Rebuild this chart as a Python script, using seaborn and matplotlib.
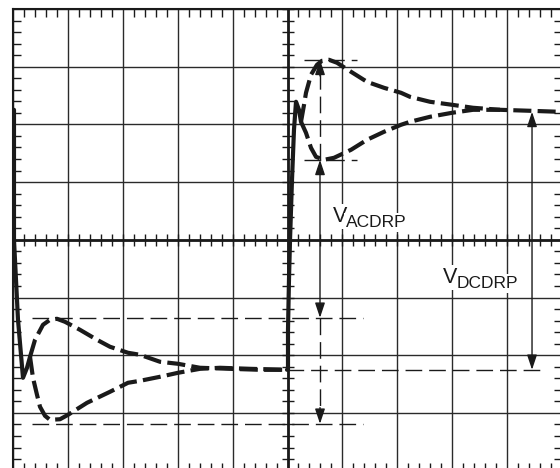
import numpy as np
import pandas as pd
import matplotlib
matplotlib.use("Agg")
import matplotlib.pyplot as plt
import seaborn as sns
from matplotlib.ticker import MultipleLocator

sns.set_theme(style="white")
plt.rcParams['font.family'] = ['Liberation Sans', 'DejaVu Sans']
plt.rcParams['lines.scale_dashes'] = False

# ---- waveform data (screen divisions: x 0..10, y -4..4) ----
# falling step (solid)
fall_x = [0.018, 0.018, 0.091, 0.182, 0.255, 0.310]
fall_y = [2.253, 0.000, -1.386, -2.392, -2.218, -2.028]
# upper envelope after falling step (dashed)
fall_up_x = [0.310, 0.401, 0.546, 0.674, 0.801, 0.947, 1.220, 1.530, 1.767, 2.095,
             2.313, 2.678, 3.005, 3.406, 3.953, 4.499, 4.991]
fall_up_y = [-2.028, -1.733, -1.473, -1.386, -1.369, -1.421, -1.560, -1.733, -1.854, -1.958,
             -1.993, -2.114, -2.149, -2.218, -2.236, -2.253, -2.253]
# lower envelope after falling step (dashed)
fall_lo_x = [0.310, 0.364, 0.437, 0.492, 0.583, 0.674, 0.856, 1.002, 1.348, 1.767,
             2.095, 2.313, 2.678, 3.005, 3.406, 3.770, 4.317, 4.991]
fall_lo_y = [-2.028, -2.392, -2.686, -2.894, -3.050, -3.120, -3.110, -3.033, -2.825, -2.634,
             -2.478, -2.444, -2.374, -2.305, -2.236, -2.218, -2.236, -2.253]
# rising step (solid)
rise_x = [4.991, 5.009, 5.009, 5.027, 5.046, 5.082, 5.118, 5.155, 5.209, 5.246]
rise_y = [-2.253, -2.253, -1.560, -0.693, 0.000, 1.040, 1.906, 2.392, 2.253, 2.045]
# upper envelope after rising step (dashed)
rise_up_x = [5.246, 5.301, 5.337, 5.428, 5.537, 5.628, 5.756, 5.902, 6.157, 6.448,
             6.758, 7.067, 7.231, 7.596, 7.996, 8.379, 8.871, 9.417, 9.964]
rise_up_y = [2.045, 2.340, 2.548, 2.860, 3.033, 3.102, 3.120, 3.068, 2.912, 2.738,
             2.634, 2.548, 2.478, 2.392, 2.340, 2.288, 2.253, 2.236, 2.218]
# lower envelope after rising step (dashed)
rise_lo_x = [5.246, 5.337, 5.428, 5.519, 5.665, 5.847, 6.157, 6.448, 6.758, 7.067,
             7.231, 7.596, 7.996, 8.379, 8.871]
rise_lo_y = [2.045, 1.854, 1.594, 1.438, 1.386, 1.421, 1.560, 1.733, 1.872, 1.993,
             2.045, 2.132, 2.201, 2.253, 2.253]

# annotation levels
ac_hi_top, ac_lo_top = 3.120, 1.386
ac_hi_bot, ac_lo_bot = -1.352, -3.189
dc_hi, dc_lo = 2.218, -2.253
ac_x, dc_x = 5.592, 9.454

fig = plt.figure(figsize=(5.6, 4.68), dpi=100)
ax = fig.add_axes([13/560, (468-470.6)/468, 549/560, 461.6/468])
ax.set_xlim(0, 10)
ax.set_ylim(-4, 4)

# graticule
ax.xaxis.set_major_locator(MultipleLocator(1))
ax.yaxis.set_major_locator(MultipleLocator(1))
ax.xaxis.set_minor_locator(MultipleLocator(0.2))
ax.yaxis.set_minor_locator(MultipleLocator(0.2))
ax.tick_params(which='major', length=0, labelbottom=False, labelleft=False)
ax.tick_params(which='minor', direction='in', length=6, width=1, color='k',
               top=True, bottom=True, left=True, right=True)
ax.grid(True, which='major', color='#2a2a2a', lw=1.0, zorder=1)
ax.set_axisbelow(True)
for s in ax.spines.values():
    s.set_color('k')
    s.set_linewidth(1.5)
ax.axhline(0, color='k', lw=2, zorder=1.5)
ax.axvline(5, color='k', lw=2, zorder=1.5)
minor_pos = [i * 0.2 for i in range(51)]
ax.plot(minor_pos, [0] * len(minor_pos), ls='none', marker='|', ms=8, mew=1, color='k', zorder=1.5)
ymin_pos = [-4 + i * 0.2 for i in range(41)]
ax.plot([5] * len(ymin_pos), ymin_pos, ls='none', marker='_', ms=8, mew=1, color='k', zorder=1.5)

# annotation dashed lines
thin = dict(color='k', lw=1.0, linestyle=(0, (12, 5)), zorder=2)
ax.plot([0.346, 6.375], [ac_hi_bot, ac_hi_bot], **thin)
ax.plot([0.346, 6.375], [ac_lo_bot, ac_lo_bot], **thin)
ax.plot([4.991, 9.654], [dc_lo, dc_lo], **thin)
ax.plot([5.301, 6.266], [ac_hi_top, ac_hi_top], **thin)
ax.plot([5.301, 6.266], [ac_lo_top, ac_lo_top], **thin)
ax.plot([ac_x, ac_x], [ac_lo_top, ac_hi_top - 0.2], **thin)
ax.plot([ac_x, ac_x], [ac_hi_bot, ac_lo_bot + 0.2], **thin)

head = 'head_length=0.9,head_width=0.3'
def arrowhead(x, tip, d):
    ax.annotate('', xy=(x, tip), xytext=(x, tip - d * 0.28),
                arrowprops=dict(arrowstyle='-|>,' + head, mutation_scale=10, color='k',
                                lw=1, shrinkA=0, shrinkB=0), zorder=3)

def dbl(x, y1, y2):
    ax.annotate('', xy=(x, y1), xytext=(x, y2),
                arrowprops=dict(arrowstyle='<|-|>,' + head, mutation_scale=10, color='k',
                                lw=1, shrinkA=0, shrinkB=0), zorder=3)

arrowhead(ac_x, ac_hi_top, 1)
arrowhead(ac_x, ac_lo_bot, -1)
dbl(ac_x, ac_lo_top, ac_hi_bot)
dbl(dc_x, dc_hi, dc_lo)

# waveform
thick_dash = (0, (13, 4.5))
def trace(xs, ys, ls):
    df = pd.DataFrame({'x': xs, 'y': ys})
    sns.lineplot(data=df, x='x', y='y', ax=ax, sort=False, estimator=None,
                 color='k', lw=3.0, linestyle=ls, zorder=4)

trace(fall_x, fall_y, '-')
trace(fall_up_x, fall_up_y, thick_dash)
trace(fall_lo_x, fall_lo_y, thick_dash)
trace(rise_x, rise_y, '-')
trace(rise_up_x, rise_up_y, thick_dash)
trace(rise_lo_x, rise_lo_y, thick_dash)
ax.set_xlabel('')
ax.set_ylabel('')

# labels
box = dict(facecolor='white', edgecolor='none', pad=1.5)
ax.text(5.829, 0.312, 'V', fontsize=15.5, ha='left', va='baseline', color='k', zorder=5, bbox=box)
ax.text(6.066, 0.225, 'ACDRP', fontsize=12.5, ha='left', va='baseline', color='k', zorder=5, bbox=box)
ax.text(7.832, -0.745, 'V', fontsize=15.5, ha='left', va='baseline', color='k', zorder=5, bbox=box)
ax.text(8.087, -0.832, 'DCDRP', fontsize=12.5, ha='left', va='baseline', color='k', zorder=5, bbox=box)

fig.savefig('out.png', dpi=100)
